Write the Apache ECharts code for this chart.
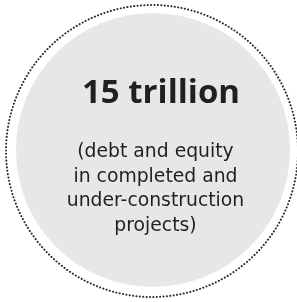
<!DOCTYPE html>
<html>
<head>
<meta charset="utf-8">
<script src="https://cdn.jsdelivr.net/npm/echarts@6/dist/echarts.min.js"></script>
<style>
  html, body { margin: 0; padding: 0; background: #fff; }
  #chart { width: 297px; height: 302px; }
</style>
</head>
<body>
<div id="chart"></div>
<script>
// text shown in the bubble
const headline = "15 trillion";
const noteLines = [
  "(debt and equity",
  "in completed and",
  "under-construction",
  "projects)"
];

const textColor = "#231f20";
const chart = echarts.init(document.getElementById("chart"));

const option = {
  backgroundColor: "#fff",
  graphic: [
    {
      type: "circle",
      shape: { cx: 152, cy: 151, r: 146 },
      style: {
        fill: "none",
        stroke: "#2a2a2a",
        lineWidth: 2,
        lineDash: [0.1, 3.3],
        lineCap: "round"
      }
    },
    {
      type: "circle",
      shape: { cx: 153, cy: 150, r: 137 },
      style: { fill: "#e6e7e8" }
    },
    {
      type: "text",
      x: 161,
      y: 94,
      style: {
        text: headline,
        fill: textColor,
        font: "bold 33px 'Open Sans'",
        align: "center",
        verticalAlign: "middle"
      }
    },
    {
      type: "text",
      x: 155.5,
      y: 189,
      style: {
        text: noteLines.join("\n"),
        fill: textColor,
        font: "18.8px 'DejaVu Sans'",
        lineHeight: 24.7,
        align: "center",
        verticalAlign: "middle"
      }
    }
  ]
};

chart.setOption(option);
</script>
</body>
</html>
